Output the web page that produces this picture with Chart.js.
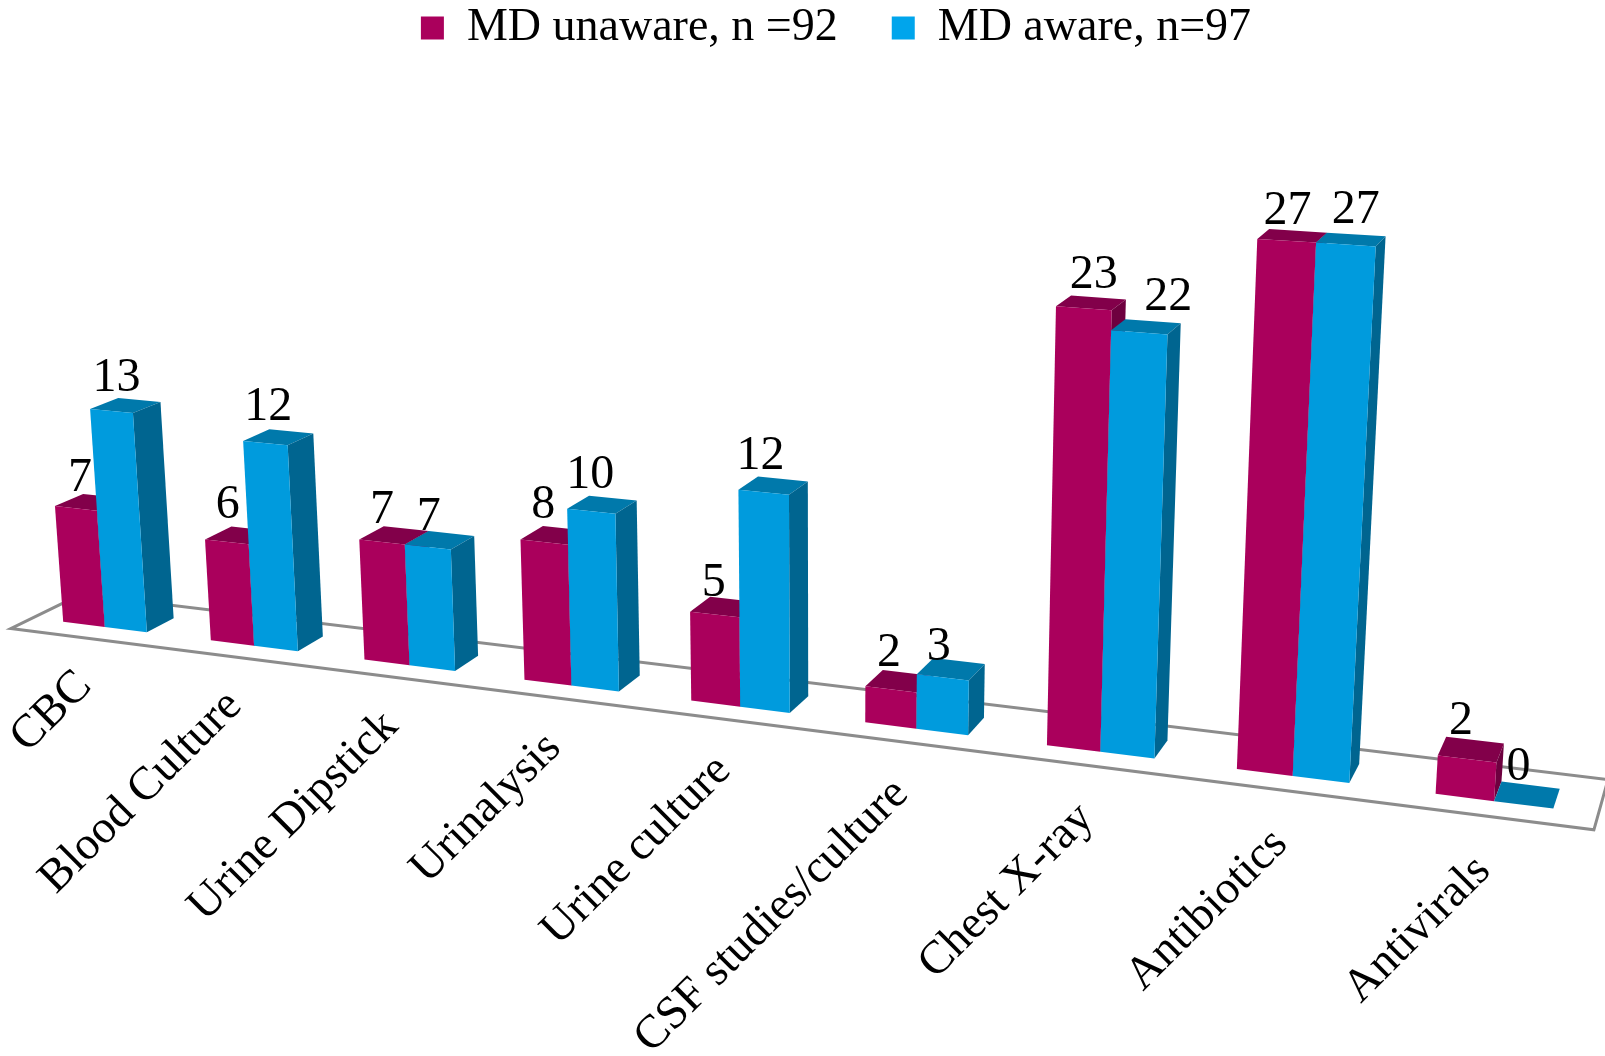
<!DOCTYPE html>
<html>
<head>
<meta charset="utf-8">
<script src="https://cdn.jsdelivr.net/npm/chart.js@4"></script>
<style>
body { margin: 0; background: #fff; }
canvas { display: block; }
</style>
</head>
<body>
<canvas id="myChart" width="1605" height="1056"></canvas>
<script>
const categories = ['CBC', 'Blood Culture', 'Urine Dipstick', 'Urinalysis', 'Urine culture',
    'CSF studies/culture', 'Chest X-ray', 'Antibiotics', 'Antivirals'];
const mdUnaware = [7, 6, 7, 8, 5, 2, 23, 27, 2];
const mdAware = [13, 12, 7, 10, 12, 3, 22, 27, 0];
const yMax = 27;

const serif = '"Liberation Serif", serif';

// camera for the 3d look: (x in category widths, y in data units, z in bar depths) -> page px
const camU = [32.323, 142.912, -1.256, 29.023];
const camV = [617.998, 5.967, -17.239, -4.524];
const camW = [1, -0.019448, -0.001516, 0.015187];

// hand placement of the value labels, [dx, dy] per category for each series
const labelNudge = [
    [[2, 5], [-1, -2], [-2, 3], [-3, -2], [-3, 4], [-4, -1], [8, 2], [-1, 6], [-8, -3]],
    [[3, 2], [1, -1], [-1, 5], [-3, -1], [-5, -1], [-6, 5], [27, 0], [8, 1], [-7, -2]]
];

function project(x, y, z) {
    const w = camW[0] + camW[1] * x + camW[2] * y + camW[3] * z;
    return [
        (camU[0] + camU[1] * x + camU[2] * y + camU[3] * z) / w,
        (camV[0] + camV[1] * x + camV[2] * y + camV[3] * z) / w
    ];
}

function quad(ctx, pts, fill) {
    ctx.beginPath();
    pts.forEach((p, i) => i ? ctx.lineTo(p[0], p[1]) : ctx.moveTo(p[0], p[1]));
    ctx.closePath();
    ctx.fillStyle = fill;
    ctx.fill();
}

const faceColors = [
    { front: '#aa005c', top: '#82004a', side: '#6e003f' },
    { front: '#009bdd', top: '#0079ab', side: '#006590' }
];

// bars come from the chart's own elements and scales, then get pushed through the camera
const bars3d = {
    id: 'bars3d',
    beforeDatasetsDraw(chart) {
        const ctx = chart.ctx;
        const area = chart.chartArea;
        const yScale = chart.scales.y;
        const count = chart.data.labels.length;
        const toX = px => (px - area.left) / area.width * count;

        // floor
        const floor = [project(0, 0, -0.75), project(count, 0, -0.75), project(count, 0, 1.75), project(0, 0, 1.75)];
        quad(ctx, floor, '#fff');
        ctx.strokeStyle = '#8c8c8c';
        ctx.lineWidth = 3;
        ctx.stroke();

        const labels = [];
        for (let i = 0; i < count; i++) {
            chart.data.datasets.forEach((ds, d) => {
                const bar = chart.getDatasetMeta(d).data[i];
                const x0 = toX(bar.x - bar.width / 2);
                const x1 = toX(bar.x + bar.width / 2);
                const v = yScale.getValueForPixel(bar.y);
                const c = faceColors[d];
                quad(ctx, [project(x0, v, 0), project(x1, v, 0), project(x1, v, 1), project(x0, v, 1)], c.top);
                if (v > 0) {
                    quad(ctx, [project(x1, 0, 0), project(x1, v, 0), project(x1, v, 1), project(x1, 0, 1)], c.side);
                    quad(ctx, [project(x0, 0, 0), project(x1, 0, 0), project(x1, v, 0), project(x0, v, 0)], c.front);
                }
                const anchor = project((x0 + x1) / 2, v, 0);
                const nudge = labelNudge[d][i];
                labels.push([String(ds.data[i]), anchor[0] + 2 + nudge[0], anchor[1] - 35 + nudge[1]]);
            });
        }

        // value labels sit over everything
        ctx.fillStyle = '#000';
        ctx.font = '48px ' + serif;
        ctx.textAlign = 'center';
        ctx.textBaseline = 'middle';
        labels.forEach(l => ctx.fillText(l[0], l[1], l[2]));

        // category labels hang below the front edge of the floor
        ctx.font = '46.5px ' + serif;
        ctx.textAlign = 'right';
        chart.data.labels.forEach((name, i) => {
            const p = project(i + 0.5, -2.3, -0.75);
            ctx.save();
            ctx.translate(p[0] - 2, p[1] + 3);
            ctx.rotate(-Math.PI / 4);
            ctx.fillText(name, 0, 0);
            ctx.restore();
        });
        return false;
    }
};

const myChart = new Chart(document.getElementById('myChart').getContext('2d'), {
    type: 'bar',
    data: {
        labels: categories,
        datasets: [
            { label: 'MD unaware, n =92', data: mdUnaware, backgroundColor: '#aa005c' },
            { label: 'MD aware, n=97', data: mdAware, backgroundColor: '#00a5ec' }
        ]
    },
    options: {
        responsive: false,
        animation: false,
        barPercentage: 1,
        categoryPercentage: 2 / 3.5,
        layout: { padding: { left: 67, top: -49 } },
        plugins: {
            tooltip: { enabled: false },
            legend: {
                position: 'top',
                labels: {
                    color: '#000',
                    boxWidth: 23,
                    boxHeight: 23,
                    padding: 54,
                    font: { family: serif, size: 46 }
                }
            }
        },
        scales: {
            x: { display: false },
            y: { display: false, min: 0, max: yMax }
        }
    },
    plugins: [bars3d]
});
</script>
</body>
</html>
